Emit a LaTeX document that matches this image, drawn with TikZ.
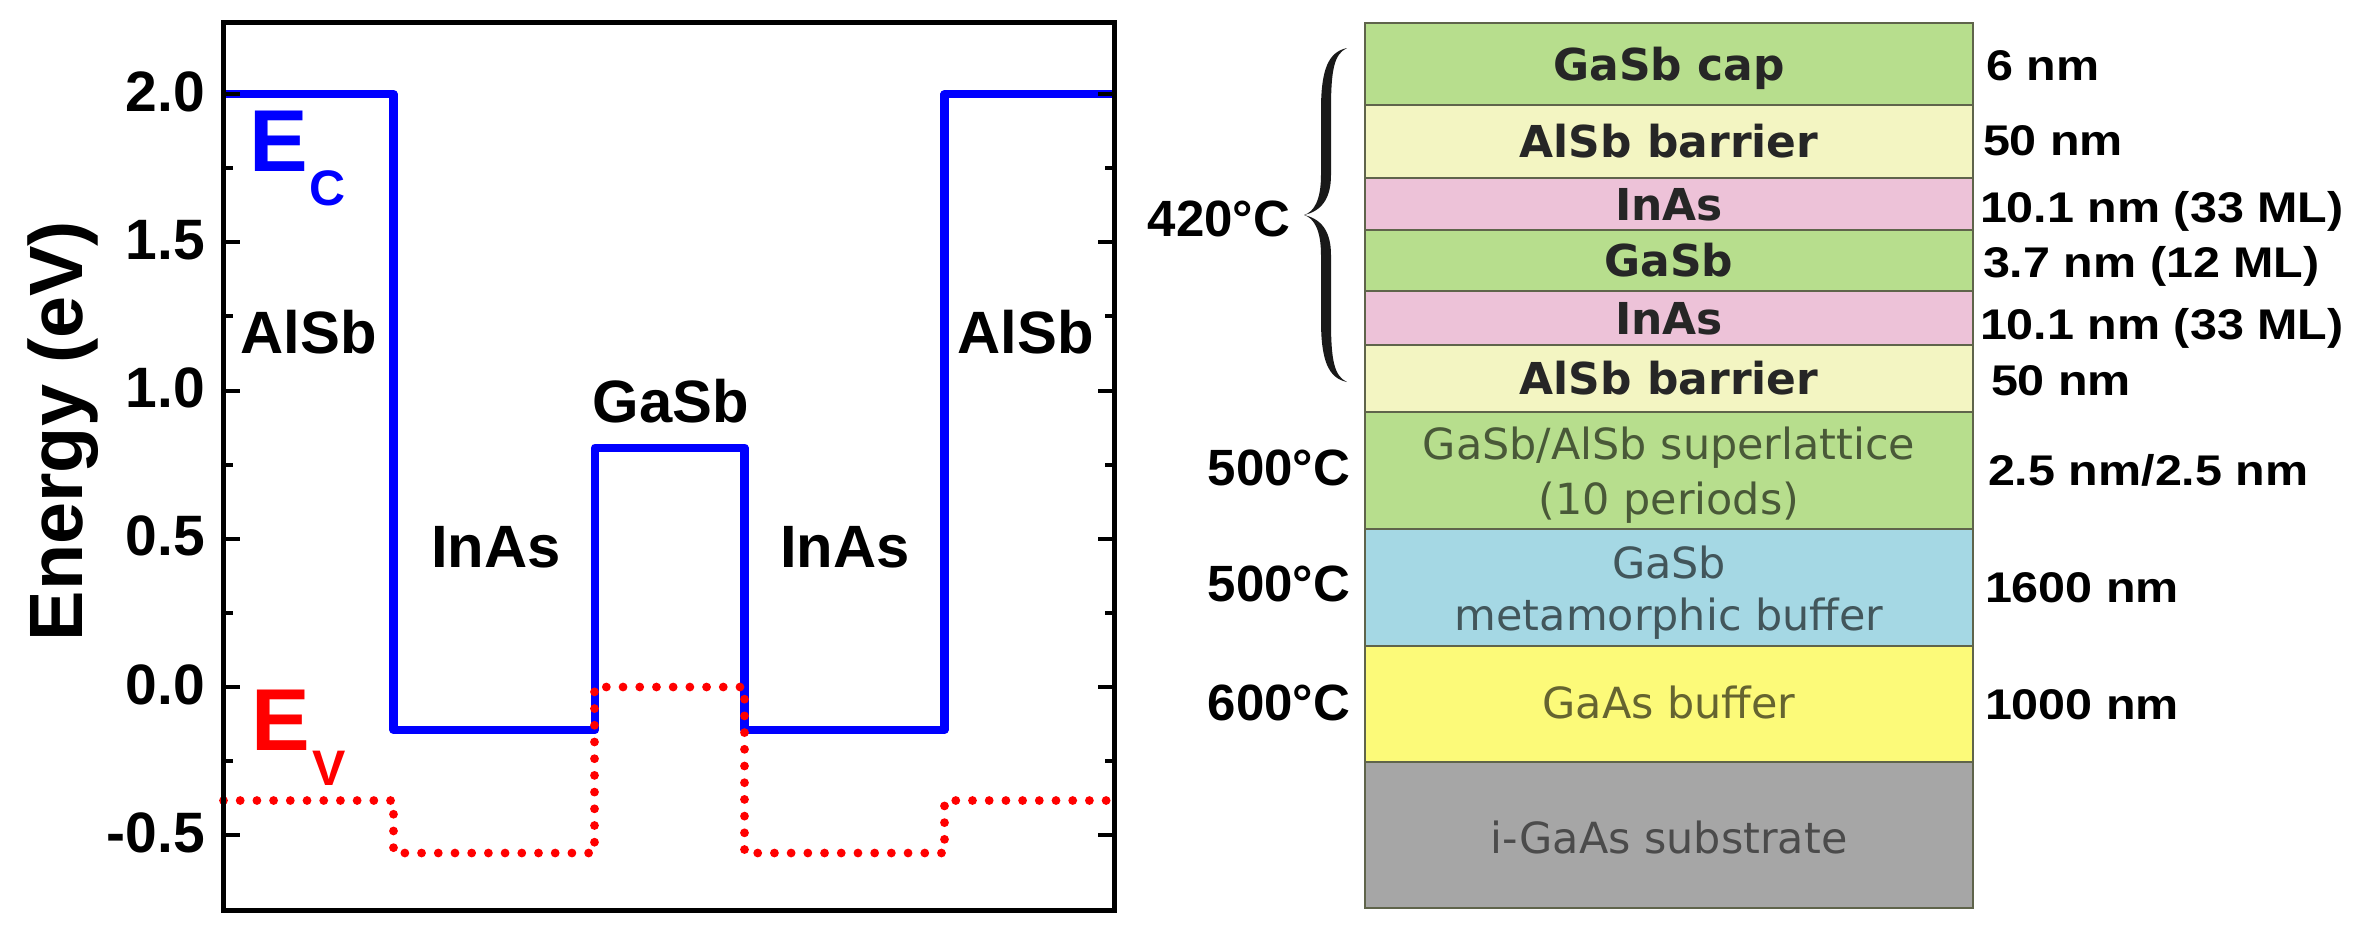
\documentclass[tikz,border=0pt]{standalone}
\usepackage{fontspec}
\setmainfont{Liberation Sans}
\newfontfamily\verd{DejaVu Sans}
\newfontfamily\arialw{Liberation Sans}[FakeStretch=1.13]
\newcommand\fsz[1]{\fontsize{#1}{#1}\selectfont}
\definecolor{lgreen}{RGB}{183,222,141}
\definecolor{lyellow}{RGB}{243,245,194}
\definecolor{lpink}{RGB}{237,194,216}
\definecolor{lblue}{RGB}{165,216,228}
\definecolor{byellow}{RGB}{252,250,121}
\definecolor{lgray}{RGB}{166,166,166}
\definecolor{edgec}{RGB}{95,100,75}
\begin{document}
\begin{tikzpicture}[x=0.01cm, y=-0.01cm,
  every node/.style={inner sep=0pt, outer sep=0pt},
  ticklab/.style={anchor=base east, font=\bfseries\fsz{16.2}},
  bandlab/.style={anchor=base, font=\bfseries\fsz{17}},
  cband/.style={blue, line width=2.28pt, line join=round},
  vband/.style={red, line width=2.5pt, line cap=round, dash pattern=on 0pt off 4.75pt},
  tickst/.style={line width=1.14pt},
  layer/.style={draw=edgec, line width=0.57pt},
  boldlab/.style={anchor=base, font=\verd\bfseries\fsz{12.5}, text=black!85},
  reglab/.style={anchor=base, font=\verd\fsz{12.2}},
  dimlab/.style={anchor=base west, font=\arialw\bfseries\fsz{12.2}},
  templab/.style={anchor=base east, font=\bfseries\fsz{14.5}}]
\useasboundingbox (0,0) rectangle (2362,944);
\fill[white] (0,0) rectangle (2362,944);

% ---------------- left panel: band diagram ----------------
% conduction band
\draw[cband] (223.5,94) -- (393.5,94) -- (393.5,730) -- (595,730) -- (595,447.5)
  -- (744.5,447.5) -- (744.5,730) -- (944.5,730) -- (944.5,94) -- (1114,94);
% valence band
\draw[vband] (223.5,800.5) -- (393.5,800.5) -- (393.5,853) -- (594.5,853) -- (594.5,687)
  -- (744.5,687) -- (744.5,853) -- (944.5,853) -- (944.5,800.5) -- (1114,800.5);
% frame
\draw[line width=1.42pt] (223.5,22) rectangle (1114,910);
% ticks
\foreach \v/\t [count=\i] in {2/2.0,1.5/1.5,1/1.0,0.5/0.5,0/0.0,-0.5/-0.5}{
  \pgfmathsetmacro\yy{687-296.5*\v}
  \draw[tickst] (223.5,\yy) -- ++(16,0);
  \draw[tickst] (1114,\yy) -- ++(-16,0);
  \node[ticklab] (tl\i) at (205,{\yy+17}) {\t};
}
\foreach \v in {1.75,1.25,0.75,0.25,-0.25}{
  \pgfmathsetmacro\yy{687-296.5*\v}
  \draw[tickst] (223.5,\yy) -- ++(9,0);
  \draw[tickst] (1114,\yy) -- ++(-9,0);
}
\node[rotate=90, anchor=base, font=\bfseries\fsz{21.5}] (ylab) at (82,431) {Energy (eV)};
% band labels
\node[bandlab] (alsbL) at (308.5,353) {AlSb};
\node[bandlab] (alsbR) at (1025.5,353) {AlSb};
\node[bandlab] (gasbB) at (671,422) {GaSb};
\node[bandlab] (inasL) at (496,567) {InAs};
\node[bandlab] (inasR) at (845,567) {InAs};
\node[anchor=base west, text=blue, font=\bfseries\fsz{25}] (ec) at (249,171)
  {E\kern0.02cm\raisebox{-0.34cm}{\fsz{14.2}C}};
\node[anchor=base west, text=red, font=\bfseries\fsz{25}] (ev) at (251,750)
  {E\kern0.03cm\raisebox{-0.35cm}{\fsz{14.2}V}};

% ---------------- right panel: layer stack ----------------
\path[layer, fill=lgreen]  (1365,23)  rectangle (1973,105);
\path[layer, fill=lyellow] (1365,105) rectangle (1973,178);
\path[layer, fill=lpink]   (1365,178) rectangle (1973,230);
\path[layer, fill=lgreen]  (1365,230) rectangle (1973,291);
\path[layer, fill=lpink]   (1365,291) rectangle (1973,345);
\path[layer, fill=lyellow] (1365,345) rectangle (1973,412);
\path[layer, fill=lgreen]  (1365,412) rectangle (1973,529);
\path[layer, fill=lblue]   (1365,529) rectangle (1973,646);
\path[layer, fill=byellow] (1365,646) rectangle (1973,762);
\path[layer, fill=lgray]   (1365,762) rectangle (1973,908);

\node[boldlab] (capl) at (1669,80) {GaSb cap};
\node[boldlab] (bar1) at (1669,157.5) {AlSb barrier};
\node[boldlab] (ina1) at (1669,220) {InAs};
\node[boldlab] (gas1) at (1669,276.5) {GaSb};
\node[boldlab] (ina2) at (1669,334) {InAs};
\node[boldlab] (bar2) at (1669,394.5) {AlSb barrier};
\node[reglab, text=lgreen!40!black] (sl1) at (1669,459) {GaSb/AlSb superlattice};
\node[reglab, text=lgreen!40!black] (sl2) at (1669,514) {(10 periods)};
\node[reglab, text=lblue!40!black] (mb1) at (1669,578) {GaSb};
\node[reglab, text=lblue!40!black] (mb2) at (1669,630) {metamorphic buffer};
\node[reglab, text=byellow!40!black] (gab) at (1669,718) {GaAs buffer};
\node[reglab, text=lgray!45!black] (sub) at (1669,853) {i-GaAs substrate};

% thicknesses
\node[dimlab] (d1) at (1986,80) {6 nm};
\node[dimlab] (d2) at (1983,155) {50 nm};
\node[dimlab] (d3) at (1980,222) {10.1 nm (33 ML)};
\node[dimlab] (d4) at (1983,277) {3.7 nm (12 ML)};
\node[dimlab] (d5) at (1980,339) {10.1 nm (33 ML)};
\node[dimlab] (d6) at (1991,395) {50 nm};
\node[dimlab] (d7) at (1988,485) {2.5 nm/2.5 nm};
\node[dimlab] (d8) at (1985,602) {1600 nm};
\node[dimlab] (d9) at (1985,719) {1000 nm};

% temperatures
\node[templab] (t1) at (1290,236) {420°C};
\node[templab] (t2) at (1350,485) {500°C};
\node[templab] (t3) at (1350,601) {500°C};
\node[templab] (t4) at (1350,720) {600°C};

% brace
\fill[black!90] (1347,48) .. controls (1328,52) and (1321,70) .. (1321,110) -- (1321,175)
  .. controls (1321,200) and (1314,212) .. (1304,215)
  .. controls (1314,218) and (1321,230) .. (1321,255) -- (1321,320)
  .. controls (1321,360) and (1328,378) .. (1347,382)
  .. controls (1334,376) and (1331,360) .. (1331,320) -- (1331,255)
  .. controls (1331,232) and (1322,219) .. (1304,215)
  .. controls (1322,211) and (1331,198) .. (1331,175) -- (1331,110)
  .. controls (1331,70) and (1334,54) .. (1347,48) -- cycle;
\end{tikzpicture}
\end{document}
